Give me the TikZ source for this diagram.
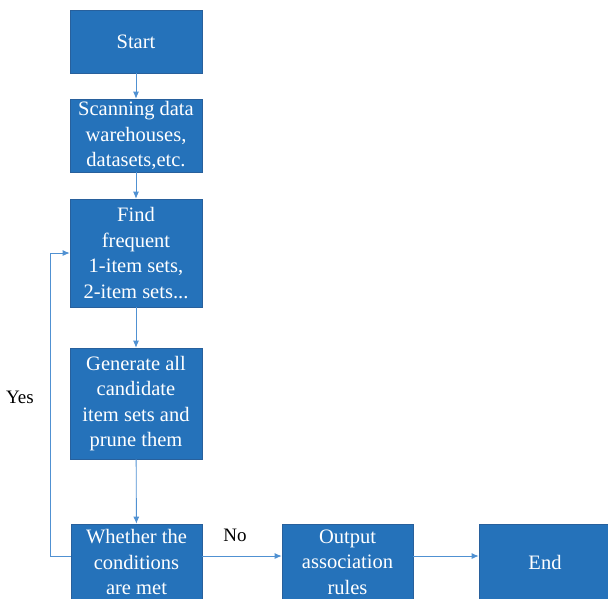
\documentclass[tikz,border=0pt]{standalone}
\usepackage{fontspec}
\setmainfont{Liberation Serif}
\usetikzlibrary{arrows.meta}
\definecolor{boxblue}{RGB}{37,114,186}
\definecolor{boxedge}{RGB}{40,96,156}
\definecolor{linkblue}{RGB}{80,145,210}
\tikzset{
  procbox/.style={rectangle, fill=boxblue, draw=boxedge, line width=0.6pt,
    text=white, align=center, inner sep=1pt,
    font=\fontsize{20.5}{25.5}\selectfont},
  link/.style={draw=linkblue, line width=0.9pt,
    -{Latex[length=7pt,width=6pt]}},
  tag/.style={font=\fontsize{19}{24}\selectfont, text=black}
}
\begin{document}
\begin{tikzpicture}[x=1pt,y=-1pt]
\useasboundingbox (0,0) rectangle (608,598);
\node[procbox, minimum width=132pt, minimum height=63pt] (start) at (136,41.5) {Start};
\node[procbox, minimum width=132pt, minimum height=73pt] (scan) at (136,135.5)
  {Scanning data\\warehouses,\\datasets,etc.};
\node[procbox, minimum width=132pt, minimum height=108pt] (find) at (136,253)
  {Find\\frequent\\1-item sets,\\2-item sets...};
\node[procbox, minimum width=132pt, minimum height=111pt] (gen) at (136,403.5)
  {Generate all\\candidate\\item sets and\\prune them};
\node[procbox, minimum width=131pt, minimum height=76pt] (cond) at (136.5,562)
  {Whether the\\conditions\\are met};
\node[procbox, minimum width=131pt, minimum height=76pt] (out) at (347.5,562)
  {Output\\association\\rules};
\node[procbox, minimum width=132pt, minimum height=76pt] (stop) at (545,562) {End};

\coordinate (bend) at (50,556);

\draw[link] (start) -- (scan);
\draw[link] (scan) -- (find);
\draw[link] (find) -- (gen);
\draw[link] (gen) -- (cond);
\draw[link] ([yshift=6pt]cond.west) -- (bend) |- (find.west);
\draw[link] ([yshift=6pt]cond.east) -- ([yshift=6pt]out.west);
\draw[link] ([yshift=6pt]out.east) -- ([yshift=6pt]stop.west);

\node[tag] (yes) at (20,397) {Yes};
\node[tag] (no) at (235,535) {No};
\end{tikzpicture}
\end{document}
